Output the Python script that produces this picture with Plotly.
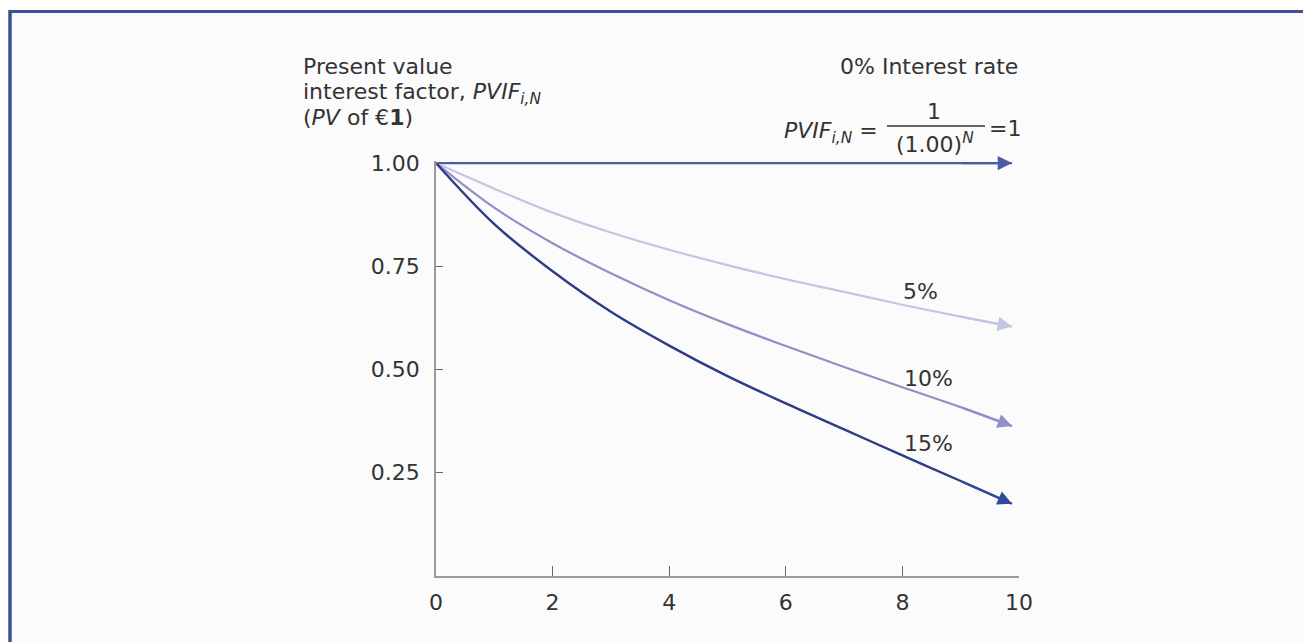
import plotly.graph_objects as go

# ---- data ----
years = [0, 1, 2, 3, 4, 5, 6, 7, 8, 9, 9.88]
pv_0 = [1.0, 1.0, 1.0, 1.0, 1.0, 1.0, 1.0, 1.0, 1.0, 1.0, 1.0]
pv_5 = [1.0, 0.938, 0.880, 0.832, 0.790, 0.753, 0.719, 0.688, 0.657, 0.628, 0.604]
pv_10 = [1.0, 0.892, 0.806, 0.733, 0.668, 0.610, 0.557, 0.506, 0.457, 0.409, 0.363]
pv_15 = [1.0, 0.852, 0.738, 0.640, 0.558, 0.484, 0.418, 0.355, 0.292, 0.230, 0.175]

series_names = ["0%", "5%", "10%", "15%"]
series_values = [pv_0, pv_5, pv_10, pv_15]

x_tick_vals = [0, 2, 4, 6, 8, 10]
x_tick_text = ["0", "2", "4", "6", "8", "10"]
y_tick_vals = [0.25, 0.50, 0.75, 1.00]
y_tick_text = ["0.25", "0.50", "0.75", "1.00"]

# ---- styling ----
OFF = 8                      # page body margin
W, H = 1311 - OFF, 642 - OFF
L, R, T, B = 436 - OFF, 1019 - OFF, 161 - OFF, 576 - OFF
FONT = "DejaVu Sans"
FS = 22
TXT = "#333333"
line_colors = ["#4a5ca6", "#c3c6e3", "#8d91c5", "#2e3b86"]
head_colors = ["#4a5ca6", "#c3c6e3", "#8d91c5", "#2d4a9c"]
line_widths = [2.2, 2.2, 2.2, 2.4]


def px(x):
    """reference-screen x pixel -> paper coordinate"""
    return (x - OFF - L) / (R - L)


def py(y):
    """reference-screen y pixel -> paper coordinate"""
    return (B - (y - OFF)) / (B - T)


fig = go.Figure()
for name, vals, c, w in zip(series_names, series_values, line_colors, line_widths):
    fig.add_trace(go.Scatter(
        x=years, y=vals, mode="lines", name=name,
        line=dict(color=c, width=w, shape="spline", smoothing=1.0),
        hoverinfo="skip",
    ))

annotations = []
# arrowheads at line ends
for vals, c in zip(series_values, head_colors):
    annotations.append(dict(
        x=years[-1], y=vals[-1], ax=years[-2], ay=vals[-2],
        xref="x", yref="y", axref="x", ayref="y",
        text="", showarrow=True, arrowhead=2, arrowsize=1.3,
        arrowwidth=2.2, arrowcolor=c, standoff=0,
    ))


def txt(text, x, y, xanchor="center", yanchor="middle", size=FS):
    annotations.append(dict(
        text=text, x=px(x), y=py(y), xref="paper", yref="paper",
        xanchor=xanchor, yanchor=yanchor, showarrow=False,
        font=dict(family=FONT, size=size, color=TXT), align="left",
    ))


# y-axis title (three lines)
txt("Present value", 301, 67, xanchor="left")
txt("interest factor, <i>PVIF</i><sub><i>i,N</i></sub>", 301, 94, xanchor="left")
txt("(<i>PV</i> of €<b>1</b>)", 301, 117, xanchor="left")

# 0% formula
txt("0% Interest rate", 1020, 67, xanchor="right")
txt("<i>PVIF</i><sub><i>i,N</i></sub> =", 880, 133, xanchor="right")
txt("1", 934, 112)
txt("(1.00)<sup><i>N</i></sup>", 935, 143)
txt("=1", 987, 128, xanchor="left")

# curve labels
txt("5%", 920, 291)
txt("10%", 928, 378)
txt("15%", 928, 443)

shapes = [
    # fraction bar
    dict(type="line", xref="paper", yref="paper", x0=px(887), x1=px(985),
         y0=py(126), y1=py(126), line=dict(color=TXT, width=1.3)),
    # frame lines (left and top)
    dict(type="line", xref="paper", yref="paper", x0=px(10), x1=px(10),
         y0=py(10), y1=py(660), line=dict(color="#3d4f97", width=3.5)),
    dict(type="line", xref="paper", yref="paper", x0=px(9), x1=px(1330),
         y0=py(11.5), y1=py(11.5), line=dict(color="#3d4f97", width=3)),
]

fig.update_layout(
    width=W, height=H,
    margin=dict(l=L, r=W - R, t=T, b=H - B, pad=0),
    paper_bgcolor="#fbfbfb", plot_bgcolor="#fbfbfb",
    showlegend=False, hovermode=False,
    font=dict(family=FONT, size=FS, color=TXT),
    annotations=annotations, shapes=shapes,
    xaxis=dict(range=[0, 10], tickvals=x_tick_vals, ticktext=x_tick_text,
               showgrid=False, zeroline=False, showline=True,
               linecolor="#9a9a9a", linewidth=1.6, ticks="inside",
               ticklen=10, tickwidth=1.3, tickcolor="#666666",
               ticklabelstandoff=6,
               tickfont=dict(family=FONT, size=FS, color=TXT)),
    yaxis=dict(range=[0, 1.005], tickvals=y_tick_vals, ticktext=y_tick_text,
               showgrid=False, zeroline=False, showline=True,
               linecolor="#9a9a9a", linewidth=1.6, ticks="inside",
               ticklen=7, tickwidth=1.3, tickcolor="#666666",
               ticklabelstandoff=10,
               tickfont=dict(family=FONT, size=FS, color=TXT)),
)

fig.write_html("out.html")
